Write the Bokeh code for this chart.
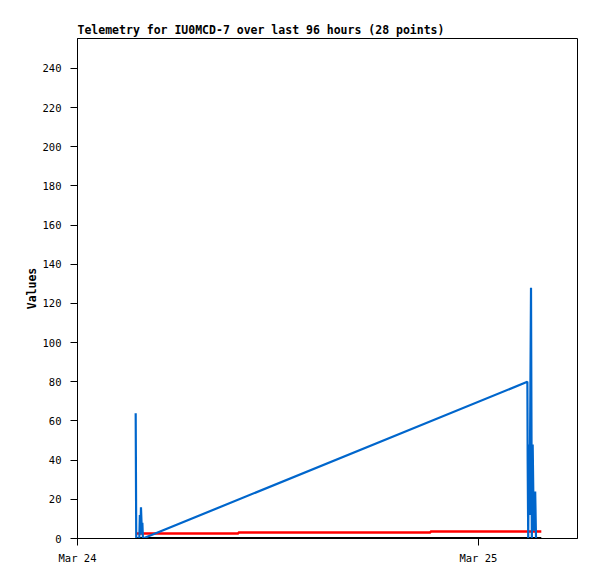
import pandas as pd
from bokeh.plotting import figure
from bokeh.models import FixedTicker, DatetimeTickFormatter, Range1d
from bokeh.embed import file_html
from bokeh.resources import INLINE

# ---- data ----
blue_times = ["2024-03-24 03:29", "2024-03-24 03:31", "2024-03-24 03:42", "2024-03-24 03:44",
              "2024-03-24 03:46", "2024-03-24 03:48", "2024-03-24 03:51", "2024-03-24 03:53",
              "2024-03-24 03:55",
              "2024-03-25 02:56", "2024-03-25 02:57", "2024-03-25 02:59", "2024-03-25 03:01",
              "2024-03-25 03:04", "2024-03-25 03:09", "2024-03-25 03:12", "2024-03-25 03:15",
              "2024-03-25 03:19", "2024-03-25 03:24", "2024-03-25 03:27"]
blue_values = [64, 0, 0, 12, 2, 16, 4, 8, 0,
               80, 40, 0, 48, 12, 128, 0, 48, 4, 24, 0]

red_times = ["2024-03-24 03:32", "2024-03-24 09:38", "2024-03-24 21:08", "2024-03-25 03:46"]
red_values = [2.6, 3.1, 3.6, 3.6]

black_times = ["2024-03-24 03:32", "2024-03-25 03:46"]
black_values = [0, 0]

tick_dates = ["2024-03-24", "2024-03-25"]
x_start = "2024-03-24 00:00"
x_end = "2024-03-25 05:56"
y_ticks = [0, 20, 40, 60, 80, 100, 120, 140, 160, 180, 200, 220, 240]
title_text = "Telemetry for IU0MCD-7 over last 96 hours (28 points)"

bt = pd.to_datetime(blue_times)
rt = pd.to_datetime(red_times)
kt = pd.to_datetime(black_times)

p = figure(width=588, height=568, output_backend="svg", toolbar_location=None,
           x_axis_type="datetime",
           x_range=Range1d(pd.Timestamp(x_start), pd.Timestamp(x_end)),
           y_range=Range1d(0, 255.3),
           min_border_left=77, min_border_right=11, min_border_top=38, min_border_bottom=30)

p.title.text = title_text
p.title.text_font = "DejaVu Sans Mono"
p.title.text_font_size = "11.5px"
p.title.text_font_style = "bold"
p.title.text_color = "black"
p.title.align = "left"
p.title.offset = 0
p.title.standoff = 3

p.grid.visible = False
p.outline_line_color = "black"
p.outline_line_width = 1
p.background_fill_color = "white"
p.border_fill_color = "white"

p.line(kt, black_values, line_color="black", line_width=3)
p.step(rt, red_values, mode="after", line_color="#ff0000", line_width=2.5)
p.line(bt, blue_values, line_color="#0066cc", line_width=2.2)

p.xaxis.ticker = FixedTicker(ticks=[pd.Timestamp(d).value / 1e6 for d in tick_dates])
p.xaxis.formatter = DatetimeTickFormatter(days="%b %d", months="%b %d", hours="%b %d")
p.yaxis.ticker = FixedTicker(ticks=y_ticks)
p.yaxis.axis_label = "Values"

for ax in (p.xaxis[0], p.yaxis[0]):
    ax.axis_line_color = "black"
    ax.major_tick_line_color = "black"
    ax.major_tick_out = 7
    ax.major_tick_in = 0
    ax.minor_tick_line_color = None
    ax.major_label_text_font = "DejaVu Sans Mono"
    ax.major_label_text_font_size = "10.5px"
    ax.major_label_text_color = "black"
    ax.axis_label_text_font = "DejaVu Sans Mono"
    ax.axis_label_text_font_size = "11.5px"
    ax.axis_label_text_font_style = "bold"
    ax.axis_label_text_color = "black"

p.yaxis.major_label_standoff = 9
p.xaxis.major_label_standoff = 6
p.yaxis.axis_label_standoff = 1

open("out.html", "w").write(file_html(p, INLINE))
